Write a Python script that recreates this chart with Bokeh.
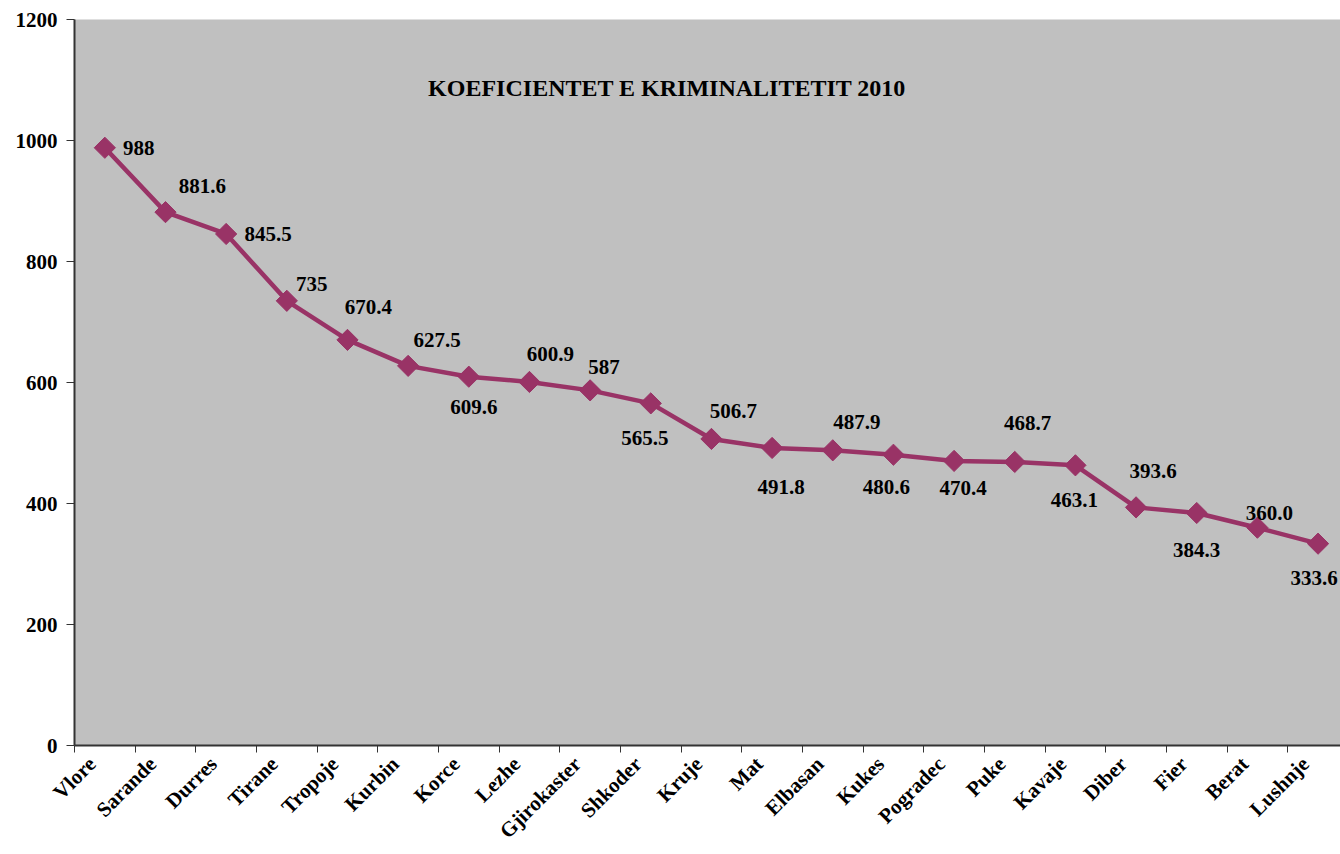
import math
from bokeh.plotting import figure
from bokeh.models import ColumnDataSource, Range1d, FixedTicker, Label
from bokeh.core.properties import value
from bokeh.embed import file_html
from bokeh.resources import INLINE

cities = ["Vlore", "Sarande", "Durres", "Tirane", "Tropoje", "Kurbin", "Korce", "Lezhe",
          "Gjirokaster", "Shkoder", "Kruje", "Mat", "Elbasan", "Kukes", "Pogradec", "Puke",
          "Kavaje", "Diber", "Fier", "Berat", "Lushnje"]
values = [988, 881.6, 845.5, 735, 670.4, 627.5, 609.6, 600.9, 587, 565.5, 506.7, 491.8,
          487.9, 480.6, 470.4, 468.7, 463.1, 393.6, 384.3, 360.0, 333.6]
value_labels = ["988", "881.6", "845.5", "735", "670.4", "627.5", "609.6", "600.9", "587",
                "565.5", "506.7", "491.8", "487.9", "480.6", "470.4", "468.7", "463.1",
                "393.6", "384.3", "360.0", "333.6"]
y_ticks = [0, 200, 400, 600, 800, 1000, 1200]
title_text = "KOEFICIENTET E KRIMINALITETIT 2010"

# label placement offsets (pixels, screen: +x right, +y down)
lab_dx = [34, 37, 42, 25, 21, 29, 5, 21, 14, -6, 22, 9, 24, -7, 9, 13, -1, 17, 0, 12, -4]
lab_dy = [0, -26, 0, -17, -33, -26, 30, -28, -23, 35, -28, 39, -28, 32, 27, -39, 35, -36, 37, -15, 34]

xpos = [i + 0.5 for i in range(len(cities))]
label_shift = 0.21  # rotated labels sit slightly left of the category centre
label_pos = [x - label_shift for x in xpos]

FONT = "Liberation Serif"
COLOR = "#993366"

p = figure(width=1340, height=854, output_backend="svg", toolbar_location=None,
           x_range=Range1d(0, 20.87), y_range=Range1d(0, 1200),
           min_border_left=74, min_border_right=0, min_border_top=19, min_border_bottom=109)
p.background_fill_color = "#C0C0C0"
p.border_fill_color = "white"
p.outline_line_color = None
p.xgrid.grid_line_color = None
p.ygrid.grid_line_color = None

src = ColumnDataSource(dict(x=xpos, y=values, lab=value_labels, dx=lab_dx, dy=lab_dy))

p.line("x", "y", source=src, line_color=COLOR, line_width=4.5)
p.scatter("x", "y", source=src, marker="square", size=15, angle=math.pi / 4,
          fill_color=COLOR, line_color=COLOR)
p.text("x", "y", text="lab", source=src, x_offset="dx", y_offset="dy",
       text_font=value(FONT), text_font_style="bold", text_font_size="21px",
       text_align="center", text_baseline="middle", text_color="black")

# x axis: ticks at category boundaries (minor), labels near centres (major, no tick)
p.xaxis.ticker = FixedTicker(ticks=label_pos, minor_ticks=list(range(len(cities) + 1)))
p.xaxis.major_label_overrides = {x: c for x, c in zip(label_pos, cities)}
p.xaxis.major_tick_out = 0
p.xaxis.major_tick_in = 0
p.xaxis.minor_tick_out = 7
p.xaxis.minor_tick_in = 0
p.xaxis.minor_tick_line_color = "#333333"
p.xaxis.minor_tick_line_width = 1
p.xaxis.major_label_orientation = math.pi / 4
p.xaxis.major_label_text_font = FONT
p.xaxis.major_label_text_font_style = "bold"
p.xaxis.major_label_text_font_size = "21px"
p.xaxis.major_label_text_color = "black"
p.xaxis.major_label_standoff = 8
p.xaxis.axis_line_color = "#333333"
p.xaxis.axis_line_width = 2

p.yaxis.ticker = FixedTicker(ticks=y_ticks)
p.yaxis.minor_tick_line_color = None
p.yaxis.major_tick_out = 8
p.yaxis.major_tick_in = 0
p.yaxis.major_tick_line_color = "#333333"
p.yaxis.major_label_text_font = FONT
p.yaxis.major_label_text_font_style = "bold"
p.yaxis.major_label_text_font_size = "21px"
p.yaxis.major_label_text_color = "black"
p.yaxis.major_label_standoff = 9
p.yaxis.axis_line_color = "#333333"
p.yaxis.axis_line_width = 2

p.add_layout(Label(x=9.77, y=1086, text=title_text, text_font=FONT, text_font_style="bold",
                   text_font_size="24px", text_align="center", text_baseline="middle",
                   text_color="black"))

open("out.html", "w").write(file_html(p, INLINE))
